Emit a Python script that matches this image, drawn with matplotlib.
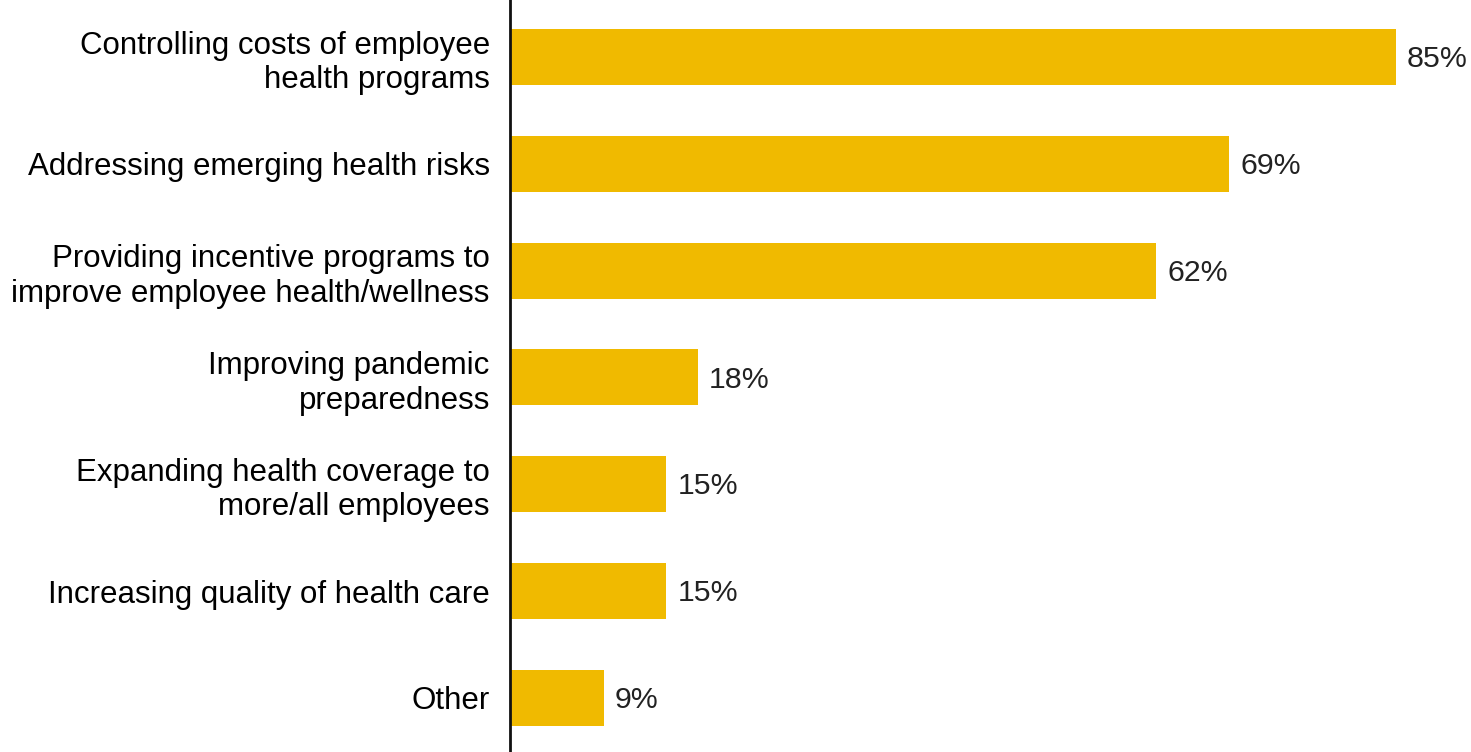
import matplotlib.pyplot as plt
from matplotlib import font_manager

# Survey data: share of respondents per priority
categories = [
    "Controlling costs of employee\nhealth programs",
    "Addressing emerging health risks",
    "Providing incentive programs to\nimprove employee health/wellness",
    "Improving pandemic\npreparedness",
    "Expanding health coverage to\nmore/all employees",
    "Increasing quality of health care",
    "Other",
]
values = [85, 69, 62, 18, 15, 15, 9]
value_labels = ["85%", "69%", "62%", "18%", "15%", "15%", "9%"]

bar_color = "#F0BA00"

# pick the regular (not Narrow) Liberation Sans file explicitly
font_file = None
for f in font_manager.fontManager.ttflist:
    if (f.name == "Liberation Sans" and "Narrow" not in f.fname
            and f.weight in (400, "normal", "regular") and f.style == "normal"):
        font_file = f.fname
        break

def fp(size):
    if font_file:
        return font_manager.FontProperties(fname=font_file, size=size)
    return font_manager.FontProperties(family="DejaVu Sans", size=size)

fig = plt.figure(figsize=(14.71, 7.52), dpi=100)
ax = fig.add_axes([510 / 1471, 0, 961 / 1471, 1])

pos = list(range(len(values)))
ax.barh(pos, values, height=0.525, color=bar_color)

for p, v, lab in zip(pos, values, value_labels):
    ax.text(v + 1.05, p + 0.02, lab, va="center", ha="left",
            fontproperties=fp(21.8), color="#222222")

ax.set_xlim(0, 92.2)
ax.set_ylim(6.507, -0.534)
ax.set_yticks(pos)
ax.set_yticklabels(categories, fontproperties=fp(22.5), linespacing=1.2)
ax.tick_params(axis="y", length=0, pad=14.5)
ax.set_xticks([])

for s in ["top", "right", "bottom"]:
    ax.spines[s].set_visible(False)
ax.spines["left"].set_linewidth(2)
ax.spines["left"].set_color("#111111")

plt.savefig("out.png", dpi=100)
